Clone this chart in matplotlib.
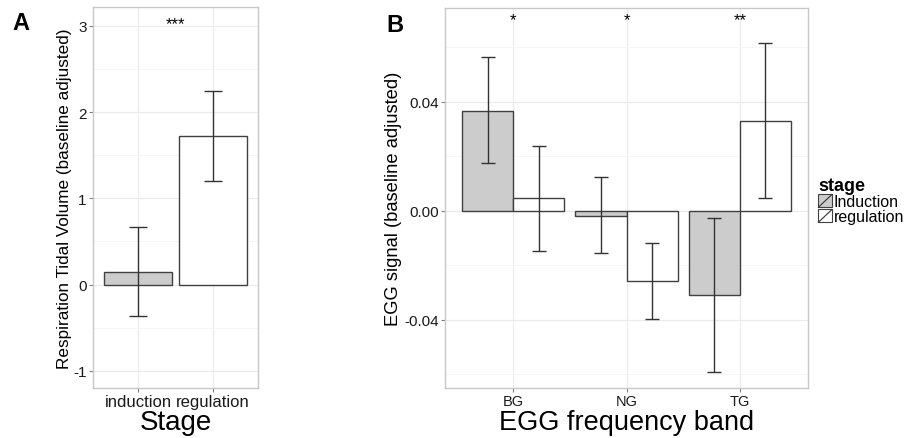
import numpy as np
import matplotlib
matplotlib.use("Agg")
import matplotlib.pyplot as plt
from matplotlib.patches import Rectangle
from matplotlib.lines import Line2D
from matplotlib.legend_handler import HandlerBase

plt.rcParams['font.family'] = ['Liberation Sans', 'DejaVu Sans']
plt.rcParams['axes.unicode_minus'] = False

# panel A: respiration tidal volume
stages = ['induction', 'regulation']
resp_mean = [0.15, 1.72]
resp_lo = [-0.37, 1.20]
resp_hi = [0.67, 2.25]
sig_a = '***'

# panel B: EGG signal per band
bands = ['BG', 'NG', 'TG']
egg_ind = [0.0367, -0.0018, -0.0308]
egg_ind_lo = [0.0176, -0.0154, -0.0590]
egg_ind_hi = [0.0565, 0.0125, -0.0026]
egg_reg = [0.0048, -0.0257, 0.0330]
egg_reg_lo = [-0.0147, -0.0396, 0.0048]
egg_reg_hi = [0.0239, -0.0117, 0.0617]
sig_b = ['*', '*', '**']

GREY = '#cccccc'
EDGE = '#404040'
ERR = '#333333'


class SlashHandler(HandlerBase):
    def create_artists(self, legend, orig, xd, yd, w, h, fontsize, trans):
        fc = orig.patches[0].get_facecolor()
        r = Rectangle((-xd, -yd), w, h, fc=fc, ec=EDGE, lw=0.8, transform=trans)
        l = Line2D([-xd, -xd + w], [-yd, -yd + h], color=ERR, lw=0.8,
                   transform=trans)
        return [r, l]


def style(ax):
    for s in ax.spines.values():
        s.set_color('#c8c8c8')
        s.set_linewidth(1)
    ax.set_axisbelow(True)
    ax.grid(which='major', color='#ebebeb', lw=0.8)
    ax.grid(which='minor', axis='y', color='#f5f5f5', lw=0.6)
    ax.tick_params(which='major', color='#7f7f7f', length=3, width=0.8,
                   pad=1.5, labelcolor='#1a1a1a')
    ax.tick_params(which='minor', length=0)


fig = plt.figure(figsize=(9.08, 4.39), dpi=100)

# ---- panel A
axa = fig.add_axes([93 / 908, 1 - 389 / 439, 165 / 908, 381 / 439])
xa = np.arange(1, len(stages) + 1)
axa.bar(xa, resp_mean, width=0.9, color=[GREY, 'white'], edgecolor=EDGE, lw=1)
mean = np.array(resp_mean)
axa.errorbar(xa, mean, yerr=[mean - np.array(resp_lo), np.array(resp_hi) - mean],
             fmt='none', ecolor=ERR, elinewidth=1, capsize=6.5, capthick=1)
axa.text(1.5, 3.03, sig_a, ha='center', va='center', fontsize=12)
axa.set_xlim(0.4, 2.6)
axa.set_ylim(-1.2, 3.22)
axa.set_yticks([-1, 0, 1, 2, 3])
axa.set_yticks([-0.5, 0.5, 1.5, 2.5], minor=True)
axa.set_xticks(xa)
axa.set_xticklabels(stages, fontsize=12)
axa.tick_params(axis='y', labelsize=11)
style(axa)
axa.set_ylabel('Respiration Tidal Volume (baseline adjusted)', fontsize=12.3)
axa.yaxis.set_label_coords(-0.128, 0.5)
axa.set_xlabel('Stage', fontsize=20)
axa.xaxis.set_label_coords(0.5, -0.055)
fig.text(12 / 908, 1 - 24 / 439, 'A', fontsize=17, fontweight='bold', va='center')

# ---- panel B
axb = fig.add_axes([445 / 908, 1 - 389 / 439, 363 / 908, 380 / 439])
xb = np.arange(1, len(bands) + 1)
w = 0.45
ind = np.array(egg_ind)
reg = np.array(egg_reg)
axb.bar(xb - w / 2, ind, width=w, color=GREY, edgecolor=EDGE, lw=1, label='Induction')
axb.bar(xb + w / 2, reg, width=w, color='white', edgecolor=EDGE, lw=1, label='regulation')
axb.errorbar(xb - w / 2, ind, yerr=[ind - np.array(egg_ind_lo), np.array(egg_ind_hi) - ind],
             fmt='none', ecolor=ERR, elinewidth=1, capsize=4.7, capthick=1)
axb.errorbar(xb + w / 2, reg, yerr=[reg - np.array(egg_reg_lo), np.array(egg_reg_hi) - reg],
             fmt='none', ecolor=ERR, elinewidth=1, capsize=4.7, capthick=1)
for x, s in zip(xb, sig_b):
    axb.text(x, 0.0703, s, ha='center', va='center', fontsize=12)
axb.set_xlim(0.4, 3.6)
axb.set_ylim(-0.065, 0.0745)
axb.set_yticks([-0.04, 0.0, 0.04])
axb.set_yticklabels(['-0.04', '0.00', '0.04'])
axb.set_yticks([-0.06, -0.02, 0.02, 0.06], minor=True)
axb.set_xticks(xb)
axb.set_xticklabels(bands, fontsize=10.5)
axb.tick_params(axis='y', labelsize=11)
style(axb)
axb.set_ylabel('EGG signal (baseline adjusted)', fontsize=13.2)
axb.yaxis.set_label_coords(-0.118, 0.5)
axb.set_xlabel('EGG frequency band', fontsize=19.5)
axb.xaxis.set_label_coords(0.5, -0.055)
fig.text(386 / 908, 1 - 26 / 439, 'B', fontsize=17, fontweight='bold', va='center')

handles, labels = axb.get_legend_handles_labels()
leg = fig.legend(handles, labels, title='stage', loc='upper left',
                 bbox_to_anchor=(816 / 908, 1 - 176 / 439), frameon=False,
                 fontsize=11.5, title_fontproperties={'weight': 'bold', 'size': 13},
                 handler_map={h: SlashHandler() for h in handles},
                 handlelength=0.85, handleheight=0.85, handletextpad=0.1,
                 labelspacing=0.0, borderpad=0.15, borderaxespad=0.0,
                 alignment='left')

fig.savefig('out.png', dpi=100)
